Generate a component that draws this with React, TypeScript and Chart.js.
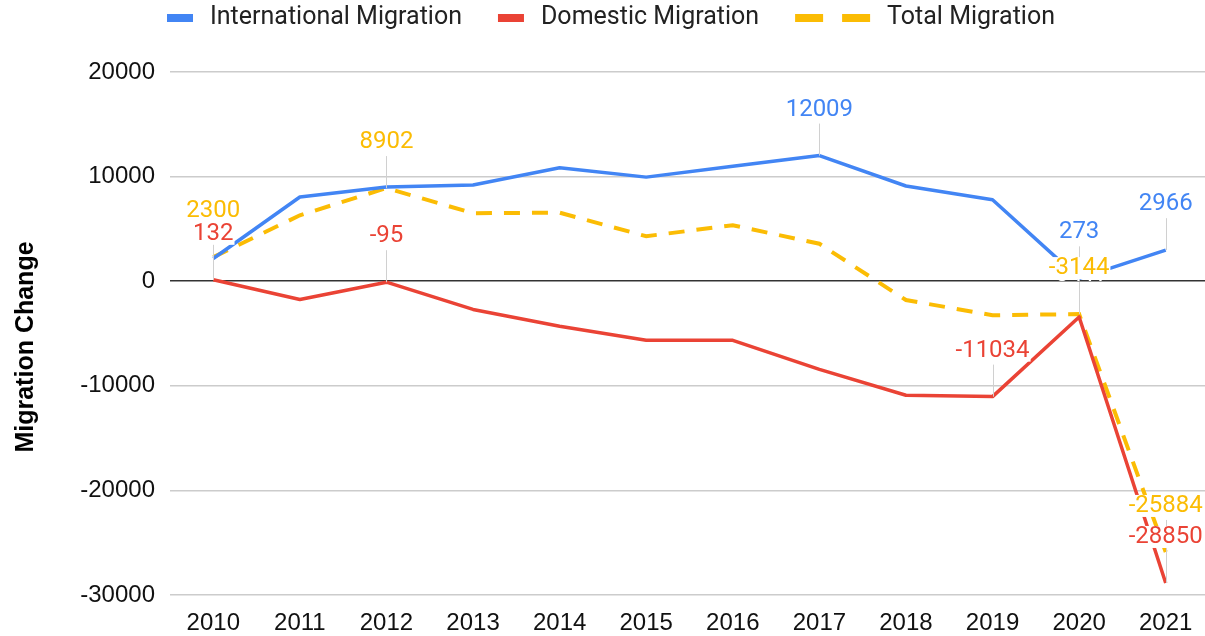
import React, { useEffect, useRef } from "react";
import { Chart, registerables } from "chart.js";

Chart.register(...registerables);

const years = ["2010", "2011", "2012", "2013", "2014", "2015", "2016", "2017", "2018", "2019", "2020", "2021"];
const international = [2168, 8050, 8997, 9200, 10850, 9950, 11000, 12009, 9100, 7780, 273, 2966];
const domestic = [132, -1750, -95, -2700, -4300, -5650, -5650, -8430, -10900, -11034, -3417, -28850];
const total = [2300, 6300, 8902, 6500, 6550, 4300, 5350, 3580, -1800, -3254, -3144, -25884];

const seriesNames = ["International Migration", "Domestic Migration", "Total Migration"];
const seriesColors = ["#4285F4", "#EA4335", "#FBBC04"];
const yTicks = [20000, 10000, 0, -10000, -20000, -30000];
const axisTitle = "Migration Change";

// which points carry a value label (series index, year)
const labeledPoints: [number, string][] = [
  [1, "2020"],
  [2, "2010"],
  [1, "2010"],
  [2, "2012"],
  [1, "2012"],
  [0, "2017"],
  [1, "2019"],
  [0, "2020"],
  [2, "2020"],
  [0, "2021"],
  [2, "2021"],
  [1, "2021"],
];
// labels that were hidden (drawn white) in the original
const hiddenLabels: [number, string][] = [[1, "2020"]];

const FONT = "Roboto, 'Noto Sans', sans-serif";
const AXIS_FONT = "'Liberation Sans', Arial, sans-serif";

const labelPlugin = {
  id: "valueLabels",
  afterDatasetsDraw(chart: any) {
    const ctx = chart.ctx;
    ctx.save();
    ctx.font = `24px ${FONT}`;
    ctx.textAlign = "center";
    ctx.textBaseline = "middle";
    // leader lines
    labeledPoints.forEach(([s, yr]) => {
      if (hiddenLabels.some(([hs, hy]) => hs === s && hy === yr)) return;
      const i = years.indexOf(yr);
      const pt = chart.getDatasetMeta(s).data[i];
      ctx.strokeStyle = "#d0d0d0";
      ctx.lineWidth = 1;
      ctx.beginPath();
      ctx.moveTo(Math.round(pt.x) + 0.5, pt.y);
      ctx.lineTo(Math.round(pt.x) + 0.5, pt.y - 32);
      ctx.stroke();
    });
    labeledPoints.forEach(([s, yr]) => {
      const i = years.indexOf(yr);
      const pt = chart.getDatasetMeta(s).data[i];
      const ds = chart.data.datasets[s];
      const txt = String(ds.data[i]);
      const w = ctx.measureText(txt).width;
      let cx = pt.x;
      const right = 1205;
      if (cx + w / 2 > right) cx = right - w / 2;
      const cy = pt.y - 46;
      const hidden = hiddenLabels.some(([hs, hy]) => hs === s && hy === yr);
      if (hidden) {
        ctx.fillStyle = "#ffffff";
        ctx.fillText(txt, cx, cy + 4);
        return;
      }
      ctx.fillStyle = "#ffffff";
      ctx.fillRect(cx - w / 2 - 1, cy - 11, w + 2, 22);
      ctx.fillStyle = seriesColors[s];
      ctx.fillText(txt, cx, cy);
    });
    ctx.restore();
  },
};

const legendPlugin = {
  id: "customLegend",
  afterDraw(chart: any) {
    const ctx = chart.ctx;
    ctx.save();
    ctx.font = `25px ${FONT}`;
    ctx.textBaseline = "middle";
    ctx.textAlign = "left";
    let x = 167;
    const cy = 18;
    seriesNames.forEach((name, s) => {
      ctx.fillStyle = seriesColors[s];
      if (s === 2) {
        ctx.fillRect(x, cy - 4, 28, 8);
        ctx.fillRect(x + 47, cy - 4, 28, 8);
        x += 75;
      } else {
        ctx.fillRect(x, cy - 4, 26, 8);
        x += 26;
      }
      x += 17;
      ctx.fillStyle = "#222222";
      ctx.fillText(name, x, cy);
      x += ctx.measureText(name).width + 36;
    });
    // y axis title
    ctx.save();
    ctx.translate(26, 347);
    ctx.rotate(-Math.PI / 2);
    ctx.textAlign = "center";
    ctx.font = `bold 25px ${AXIS_FONT}`;
    ctx.fillStyle = "#000000";
    ctx.fillText(axisTitle, 0, 0);
    ctx.restore();
    ctx.restore();
  },
};

export default function App() {
  const ref = useRef<HTMLCanvasElement | null>(null);
  useEffect(() => {
    if (!ref.current) return;
    const chart = new Chart(ref.current, {
      type: "line",
      data: {
        labels: years,
        datasets: [
          {
            label: seriesNames[0],
            data: international,
            borderColor: seriesColors[0],
            backgroundColor: seriesColors[0],
            borderWidth: 3.5,
            pointRadius: 0,
            tension: 0,
            borderJoinStyle: "round",
          },
          {
            label: seriesNames[1],
            data: domestic,
            borderColor: seriesColors[1],
            backgroundColor: seriesColors[1],
            borderWidth: 3.5,
            pointRadius: 0,
            tension: 0,
            borderJoinStyle: "round",
          },
          {
            label: seriesNames[2],
            data: total,
            borderColor: seriesColors[2],
            backgroundColor: seriesColors[2],
            borderWidth: 4,
            borderDash: [16, 12],
            pointRadius: 0,
            tension: 0,
          },
        ],
      },
      options: {
        responsive: false,
        animation: false,
        devicePixelRatio: 1,
        layout: { padding: { top: 72, right: 1, left: 0, bottom: 0 } },
        plugins: {
          legend: { display: false },
          tooltip: { enabled: false },
        },
        scales: {
          x: {
            type: "category",
            offset: true,
            grid: { display: false, drawTicks: false },
            border: { display: false },
            ticks: {
              color: "#111111",
              font: { family: AXIS_FONT, size: 24 },
              padding: 14,
              maxRotation: 0,
              autoSkip: false,
            },
            afterFit(scale: any) {
              scale.height = 41;
            },
          },
          y: {
            type: "linear",
            min: -30000,
            max: 20000,
            afterBuildTicks(scale: any) {
              scale.ticks = yTicks.map((v) => ({ value: v }));
            },
            grid: {
              drawTicks: false,
              color: (c: any) => (c.tick && c.tick.value === 0 ? "#333333" : "#cccccc"),
              lineWidth: 1.5,
            },
            border: { display: false },
            ticks: {
              color: "#111111",
              font: { family: AXIS_FONT, size: 24 },
              padding: 15,
              callback: (v: any) => String(v),
            },
            afterFit(scale: any) {
              scale.width = 170;
            },
          },
        },
      },
      plugins: [labelPlugin, legendPlugin],
    } as any);
    return () => chart.destroy();
  }, []);
  return (
    <div
      style={{
        position: "fixed",
        left: 0,
        top: 0,
        width: 1205,
        height: 636,
        overflow: "hidden",
        background: "#ffffff",
      }}
    >
      <canvas ref={ref} width={1210} height={636} style={{ display: "block" }} />
    </div>
  );
}
